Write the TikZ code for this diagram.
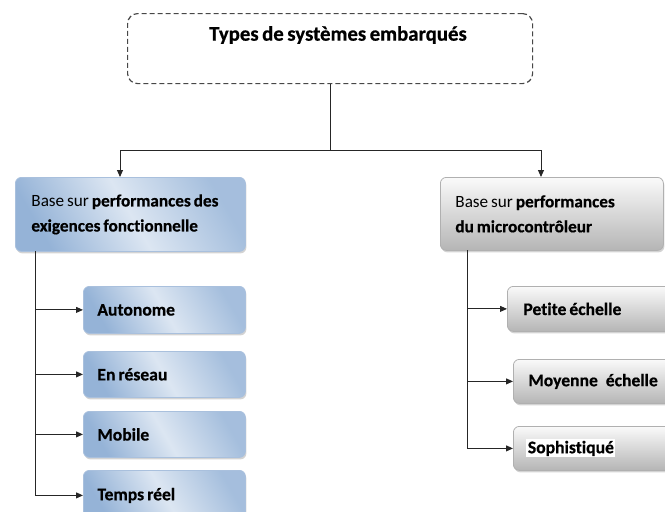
\documentclass[tikz,border=0pt]{standalone}
\usepackage{fontspec}
\setmainfont{Carlito}[Ligatures=NoCommon, WordSpace=0.75, BoldFeatures={FakeBold=0.6}]
\usetikzlibrary{shadows,arrows.meta}
\definecolor{bdark}{HTML}{95B3D7}
\definecolor{blight}{HTML}{DCE6F2}
\definecolor{bborder}{HTML}{A9C0DD}
\definecolor{gborder}{HTML}{B0B0B0}
\tikzset{
  box/.style={rounded corners=6pt, anchor=north west, inner ysep=0pt,
    align=flush left, drop shadow={shadow xshift=1pt, shadow yshift=-2pt, opacity=0.35}},
  bluebox/.style={box, draw=bborder, line width=0.8pt,
    left color=bdark, right color=bdark!85, middle color=blight, shading angle=120},
  graybox/.style={box, draw=gborder, line width=0.8pt,
    top color=gray!4, bottom color=gray!58},
  childtext/.style={font=\bfseries\fontsize{17.6}{20}\selectfont},
  partext/.style={font=\fontsize{17.2}{25}\selectfont},
  conn/.style={line width=0.9pt, draw=black!85},
  arr/.style={conn, -{Triangle[length=7pt,width=6pt]}}
}
\begin{document}
\begin{tikzpicture}[x=1pt,y=-1pt]
\useasboundingbox (0,0) rectangle (665,512);
\clip (0,0) rectangle (665,512);
% top box
\node[anchor=north west, draw=black!72, dashed, dash pattern=on 5pt off 3pt,
  line width=1.2pt, rounded corners=10pt, minimum width=405pt, minimum height=70pt]
  (top) at (127,13) {};
\node[font=\bfseries\fontsize{20.8}{24}\selectfont] (title) at (338,35) {Types de systèmes embarqués};
% parents
\node[bluebox, partext, minimum width=230pt, minimum height=74pt, inner xsep=16pt, text width=198pt]
  (p1) at (15,177) {Base sur \textbf{performances des}\\\textbf{exigences fonctionnelle}};
\node[graybox, partext, minimum width=223pt, minimum height=73pt, inner xsep=15pt, text width=193pt]
  (p2) at (440,177) {Base sur \textbf{performances}\\\textbf{du microcontrôleur}};
% left children
\node[bluebox, childtext, minimum width=162pt, minimum height=47pt, inner xsep=14pt, text width=134pt]
  (c1) at (83,286) {Autonome};
\node[bluebox, childtext, minimum width=162pt, minimum height=46pt, inner xsep=14pt, text width=134pt]
  (c2) at (83,351) {En réseau};
\node[bluebox, childtext, minimum width=162pt, minimum height=46pt, inner xsep=14pt, text width=134pt]
  (c3) at (83,411) {Mobile};
\node[bluebox, childtext, minimum width=162pt, minimum height=50pt, inner xsep=14pt, text width=134pt]
  (c4) at (83,470) {Temps réel};
% right children
\node[graybox, childtext, minimum width=175pt, minimum height=45pt, inner xsep=16pt, text width=143pt]
  (r1) at (507,286) {Petite échelle};
\node[graybox, childtext, minimum width=170pt, minimum height=44pt, inner xsep=15pt, text width=140pt]
  (r2) at (513,359) {Moyenne\hspace{0.45em}échelle};
\node[graybox, childtext, minimum width=170pt, minimum height=44pt, inner xsep=13pt, text width=144pt]
  (r3) at (513,426) {{\setlength{\fboxsep}{1.5pt}\colorbox{white}{Sophistiqué}}};
% connectors from top
\coordinate (jl) at (120,150);
\coordinate (jr) at (541,150);
\draw[conn] (top.south) |- (jl);
\draw[conn] (top.south) |- (jr);
\draw[arr] (jl) -- (jl |- p1.north);
\draw[arr] (jr) -- (jr |- p2.north);
% left tree
\coordinate (lv) at (35,251);
\foreach \c in {c1,c2,c3,c4} \draw[arr] (lv) |- (\c.west);
% right tree
\coordinate (rv) at (467,250);
\foreach \c in {r1,r2,r3} \draw[arr] (rv) |- (\c.west);
\end{tikzpicture}
\end{document}
